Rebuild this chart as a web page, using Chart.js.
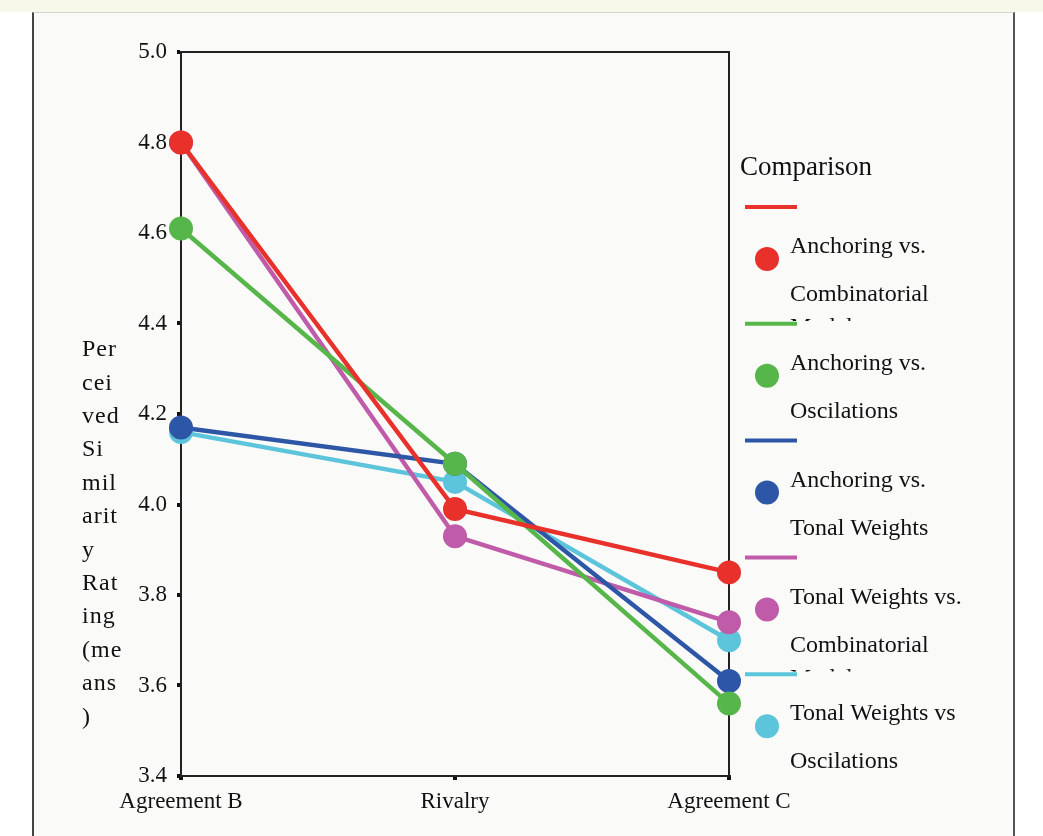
<html>
<head>
  <style>
    body{
      margin: 0;
      background-color: #ffffff;
      font-family: "Liberation Serif", serif;
    }
    #band{
      position: absolute; left: 0; top: 0; width: 1043px; height: 12px;
      background-color: #f7f7ea;
    }
    #panel{
      position: absolute; left: 32px; top: 12px; width: 979px; height: 840px;
      background-color: #fafaf9;
      border-left: 2px solid #444;
      border-right: 2px solid #555;
      border-top: 1px solid #d4d4cc;
    }
    #wrap{
      position: absolute; left: 0; top: 0; width: 1043px; height: 836px;
    }
  </style>
  <script src="https://cdn.jsdelivr.net/npm/chart.js"></script>
</head>
<body>

<div id="band"></div>
<div id="panel"></div>
<div id="wrap">
  <canvas id="myChart"></canvas>
</div>

<script>
  // values (means)
  var categories = ['Agreement B', 'Rivalry', 'Agreement C'];
  var anchoringCombinatorial = [4.80, 3.99, 3.85];
  var anchoringOscilations = [4.61, 4.09, 3.56];
  var anchoringTonal = [4.17, 4.09, 3.61];
  var tonalCombinatorial = [4.80, 3.93, 3.74];
  var tonalOscilations = [4.16, 4.05, 3.70];
  var yTicks = [3.4, 3.6, 3.8, 4.0, 4.2, 4.4, 4.6, 4.8, 5.0];

  var seriesLabels = [
    ['Anchoring vs.', 'Combinatorial', 'Models'],
    ['Anchoring vs.', 'Oscilations'],
    ['Anchoring vs.', 'Tonal Weights'],
    ['Tonal Weights vs.', 'Combinatorial', 'Models'],
    ['Tonal Weights vs', 'Oscilations']
  ];
  var seriesColors = ['#e8312a', '#57b64a', '#2d57a6', '#c05ba9', '#5cc5db'];
  var seriesValues = [anchoringCombinatorial, anchoringOscilations, anchoringTonal, tonalCombinatorial, tonalOscilations];
  var legendTitle = 'Comparison';
  var yTitleLines = ['Per', 'cei', 'ved', 'Si', 'mil', 'arit', 'y', 'Rat', 'ing', '(me', 'ans', ')'];

  var datasets = seriesValues.map(function(vals, i) {
    return {
      label: seriesLabels[i].join(' '),
      data: vals,
      borderColor: seriesColors[i],
      backgroundColor: seriesColors[i],
      borderWidth: 4.5,
      pointRadius: 12,
      pointHoverRadius: 12,
      pointBorderWidth: 0,
      tension: 0,
      clip: false
    };
  });

  // box around the plot, SPSS style
  var framePlugin = {
    id: 'frame',
    beforeDatasetsDraw: function(chart) {
      var c = chart.ctx, a = chart.chartArea;
      c.save();
      c.strokeStyle = '#222';
      c.lineWidth = 2;
      c.beginPath();
      c.moveTo(a.left, a.top);
      c.lineTo(a.right, a.top);
      c.lineTo(a.right, a.bottom);
      c.stroke();
      c.restore();
    },
    afterDraw: function(chart) {
      var c = chart.ctx;
      c.save();
      c.fillStyle = '#111';
      c.textBaseline = 'middle';
      c.textAlign = 'left';
      // vertical axis title, broken in short pieces
      c.font = '24px "Liberation Serif"';
      c.letterSpacing = '1px';
      yTitleLines.forEach(function(t, i) {
        c.fillText(t, 82, 350 + i * 33.4);
      });
      // legend
      c.font = '27px "Liberation Serif"';
      c.letterSpacing = '0px';
      c.fillText(legendTitle, 740, 168);
      c.font = '24px "Liberation Serif"';
      chart.data.datasets.forEach(function(ds, i) {
        var y0 = 207 + i * 116.8;
        c.strokeStyle = ds.borderColor;
        c.lineWidth = 4;
        c.beginPath();
        c.moveTo(745, y0);
        c.lineTo(797, y0);
        c.stroke();
        c.fillStyle = ds.backgroundColor;
        c.beginPath();
        c.arc(767, y0 + 52, 12, 0, Math.PI * 2);
        c.fill();
        c.fillStyle = '#111';
        var lines = seriesLabels[i];
        c.fillText(lines[0], 790, y0 + 40);
        if (lines[1]) c.fillText(lines[1], 790, y0 + 88);
        if (lines[2]) {
          c.save();
          c.beginPath();
          c.rect(780, y0 + 100, 200, 14);
          c.clip();
          c.fillText(lines[2], 790, y0 + 121);
          c.restore();
        }
      });
      c.restore();
    }
  };

  var ctx = document.getElementById('myChart');
  new Chart(ctx, {
    type: 'line',
    data: {
      labels: categories,
      datasets: datasets
    },
    plugins: [framePlugin],
    options: {
      responsive: true,
      maintainAspectRatio: false,
      animation: false,
      layout: {
        padding: {top: 52, right: 314, bottom: 0, left: 0}
      },
      plugins: {
        legend: {display: false},
        tooltip: {enabled: false},
        title: {display: false}
      },
      scales: {
        x: {
          offset: false,
          afterFit: function(s) { s.height = 60; },
          grid: {display: true, drawOnChartArea: false, drawTicks: true, tickLength: 4, color: '#111', lineWidth: 4},
          border: {display: true, color: '#222', width: 2},
          ticks: {
            color: '#111',
            padding: 8,
            maxRotation: 0,
            font: {family: 'Liberation Serif', size: 23}
          }
        },
        y: {
          min: 3.4,
          max: 5.0,
          z: 1,
          afterFit: function(s) { s.width = 181; },
          afterBuildTicks: function(s) {
            s.ticks = yTicks.map(function(v) { return {value: v}; });
          },
          grid: {display: true, drawOnChartArea: false, drawTicks: true, tickLength: 4, color: '#111', lineWidth: 4},
          border: {display: true, color: '#222', width: 2},
          ticks: {
            color: '#111',
            padding: 10,
            font: {family: 'Liberation Serif', size: 23},
            callback: function(v) { return Number(v).toFixed(1); }
          }
        }
      }
    }
  });
</script>
</body>
</html>
